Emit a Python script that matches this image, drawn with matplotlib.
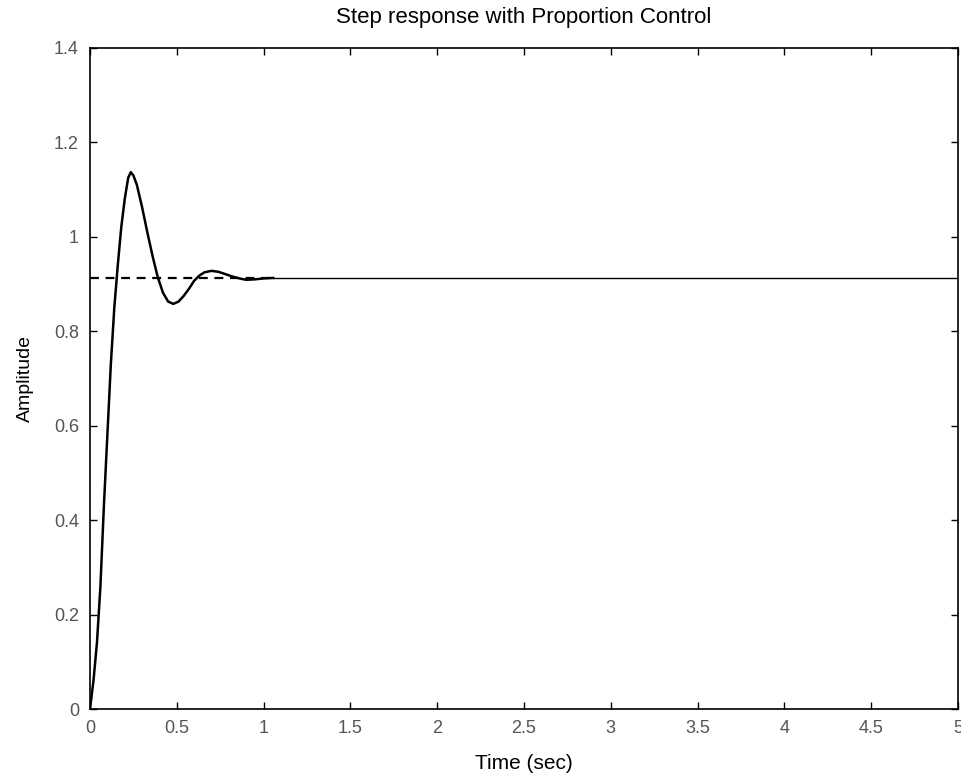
import matplotlib.pyplot as plt

# Step response values (transient part)
t_resp = [0.0, 0.02, 0.04, 0.06, 0.08, 0.10, 0.12, 0.14, 0.16, 0.18, 0.20,
          0.22, 0.235, 0.25, 0.27, 0.30, 0.33, 0.36, 0.39, 0.42, 0.45, 0.48,
          0.51, 0.54, 0.57, 0.60, 0.63, 0.66, 0.70, 0.74, 0.78, 0.82, 0.86,
          0.90, 0.95, 1.00, 1.055]
y_resp = [0.0, 0.06, 0.14, 0.26, 0.43, 0.58, 0.73, 0.85, 0.94, 1.02, 1.08,
          1.125, 1.137, 1.13, 1.11, 1.063, 1.01, 0.96, 0.915, 0.882, 0.863, 0.858,
          0.863, 0.875, 0.89, 0.907, 0.918, 0.925, 0.928, 0.926, 0.921, 0.916, 0.912,
          0.909, 0.91, 0.912, 0.913]
final_value = 0.913
t_end = 5.0

xticks = [0, 0.5, 1, 1.5, 2, 2.5, 3, 3.5, 4, 4.5, 5]
yticks = [0, 0.2, 0.4, 0.6, 0.8, 1, 1.2, 1.4]

plt.rcParams['font.family'] = ['Liberation Sans', 'DejaVu Sans']

fig = plt.figure(figsize=(9.62, 7.79), dpi=100)
ax = fig.add_axes([90 / 962, 70 / 779, 868 / 962, 661 / 779])

# steady state dashed line
ax.plot([0, t_resp[-1]], [final_value, final_value], 'k--', linewidth=1.6,
        dashes=(4, 3))
# response curve
ax.plot(t_resp, y_resp, 'k-', linewidth=1.8)
ax.plot([t_resp[-1], t_end], [y_resp[-1], final_value], 'k-', linewidth=1.0)

ax.set_xlim(0, 5)
ax.set_ylim(0, 1.4)
ax.set_xticks(xticks)
ax.set_xticklabels(['0', '0.5', '1', '1.5', '2', '2.5', '3', '3.5', '4', '4.5', '5'])
ax.set_yticks(yticks)
ax.set_yticklabels(['0', '0.2', '0.4', '0.6', '0.8', '1', '1.2', '1.4'])
ax.tick_params(direction='in', top=True, right=True, length=5, width=1,
               labelsize=13, labelcolor='#555555', pad=8)
for s in ax.spines.values():
    s.set_linewidth(1.2)

ax.set_title('Step response with Proportion Control', fontsize=16, pad=18)
ax.set_xlabel('Time (sec)', fontsize=15, labelpad=12)
ax.set_ylabel('Amplitude', fontsize=14, labelpad=14)

fig.savefig('out.png', dpi=100)
